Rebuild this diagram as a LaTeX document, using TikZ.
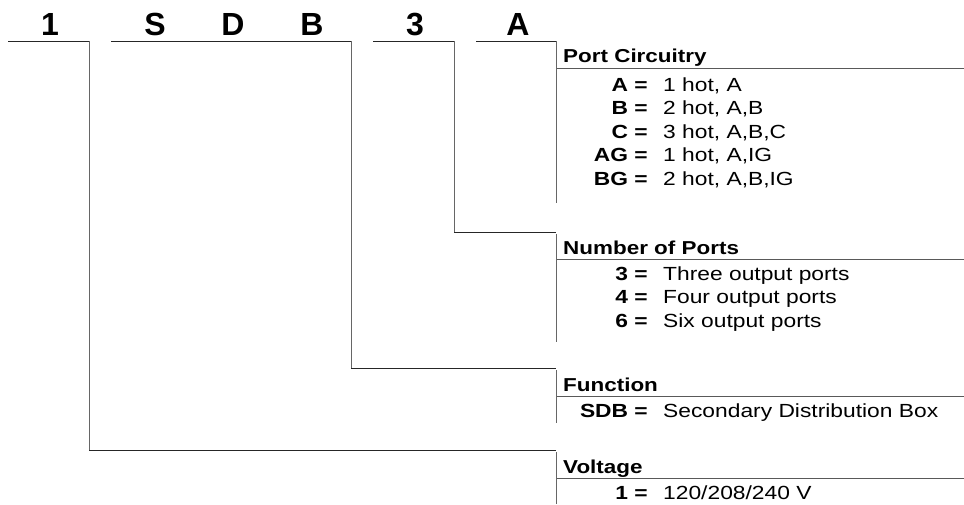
\documentclass[tikz,border=0pt]{standalone}
\usepackage{fontspec}
\setmainfont{Liberation Sans}[FakeStretch=1.2]
\newfontfamily\codefont{Liberation Sans}
\begin{document}
\begin{tikzpicture}[x=1pt,y=-1pt,
  conn/.style={line width=1pt, black!85},
  vbar/.style={line width=1pt, black!60},
  tline/.style={line width=1pt, black!65},
  code/.style={font=\codefont\fontsize{32}{32}\selectfont\bfseries, inner sep=0pt, anchor=base},
  ttl/.style={font=\fontsize{18.7}{18.7}\selectfont\bfseries, inner sep=0pt, anchor=base west},
  key/.style={font=\fontsize{19}{19}\selectfont\bfseries, inner sep=0pt, anchor=base east},
  val/.style={font=\fontsize{19}{19}\selectfont, inner sep=0pt, anchor=base west}]
\useasboundingbox (0,0) rectangle (964,504);
% code letters
\node[code] (c1) at (50,35) {1};
\node[code] (cS) at (155,35) {S};
\node[code] (cD) at (233,35) {D};
\node[code] (cB) at (312,35) {B};
\node[code] (c3) at (415,35) {3};
\node[code] (cA) at (518,35) {A};
% underlines
\coordinate (u1a) at (8,41);   \coordinate (u1b) at (89,41);
\coordinate (u2a) at (111,41); \coordinate (u2b) at (351,41);
\coordinate (u3a) at (373,41); \coordinate (u3b) at (454,41);
\coordinate (u4a) at (476,41); \coordinate (u4b) at (556,41);
\draw[conn] (u1a) -- (u1b);
\draw[conn] (u2a) -- (u2b);
\draw[conn] (u3a) -- (u3b);
\draw[conn] (u4a) -- (u4b);
% section anchors
\coordinate (pc) at (556,203);
\coordinate (np) at (556,232);
\coordinate (fn) at (556,368);
\coordinate (vo) at (556,450);
% connectors
\draw[vbar] (u4b) -- (pc);
\draw[vbar] (u3b) |- (np);
\draw[vbar] (u2b) |- (fn);
\draw[vbar] (u1b) |- (vo);
\draw[conn] (454,232) -- (np);
\draw[conn] (351,368) -- (fn);
\draw[conn] (89,450) -- (vo);
% section boxes
\draw[vbar] (556,234) -- (556,342);
\draw[vbar] (556,370) -- (556,423);
\draw[vbar] (556,452) -- (556,504);
\draw[tline] (557,68) -- (964,68);
\draw[tline] (557,259) -- (964,259);
\draw[tline] (557,396) -- (964,396);
\draw[tline] (557,478) -- (964,478);
% Port Circuitry
\node[ttl] (t1) at (563,62) {Port Circuitry};
\node[key] (k11) at (648,91) {A =};   \node[val] (v11) at (663,91) {1 hot, A};
\node[key] (k12) at (648,114.5) {B =};   \node[val] (v12) at (663,114.5) {2 hot, A,B};
\node[key] (k13) at (648,138) {C =};   \node[val] (v13) at (663,138) {3 hot, A,B,C};
\node[key] (k14) at (648,161.5) {AG =};  \node[val] (v14) at (663,161.5) {1 hot, A,IG};
\node[key] (k15) at (648,185) {BG =};  \node[val] (v15) at (663,185) {2 hot, A,B,IG};
% Number of Ports
\node[ttl] (t2) at (563,254) {Number of Ports};
\node[key] (k21) at (648,280) {3 =};  \node[val] (v21) at (663,280) {Three output ports};
\node[key] (k22) at (648,303.5) {4 =};  \node[val] (v22) at (663,303.5) {Four output ports};
\node[key] (k23) at (648,327) {6 =};  \node[val] (v23) at (663,327) {Six output ports};
% Function
\node[ttl] (t3) at (563,391) {Function};
\node[key] (k31) at (648,417) {SDB =}; \node[val] (v31) at (663,417) {Secondary Distribution Box};
% Voltage
\node[ttl] (t4) at (563,473) {Voltage};
\node[key] (k41) at (648,499) {1 =};  \node[val] (v41) at (663,499) {120/208/240 V};
\end{tikzpicture}
\end{document}
